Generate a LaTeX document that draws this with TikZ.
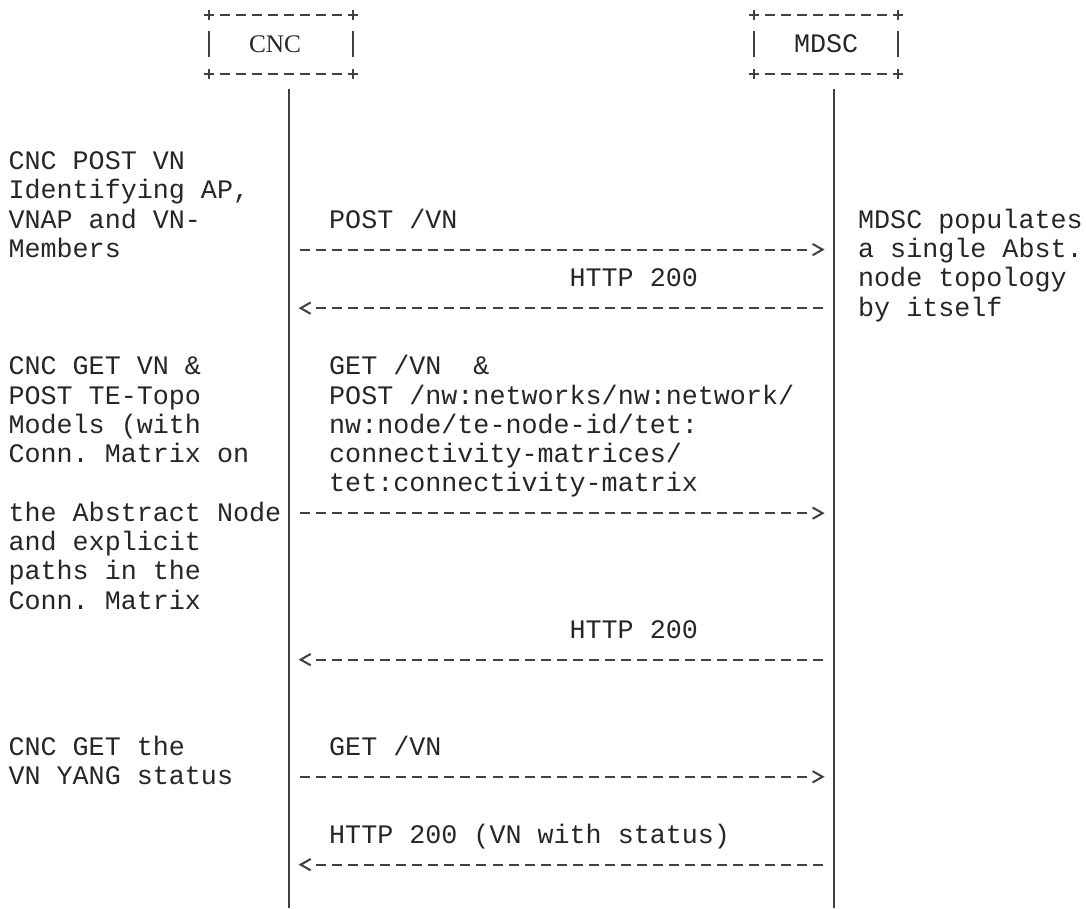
\documentclass[tikz,border=0pt]{standalone}
\usepackage{fontspec}
\newfontfamily\asciimono{Liberation Mono}
\newfontfamily\asciiserif{Liberation Serif}
\usetikzlibrary{arrows.meta}

% dash pattern of one message line: 32 hyphens, then blank up to the tip
\def\hyphenrun{}
\foreach \i in {1,...,31}{\xdef\hyphenrun{\hyphenrun on 7.5pt off 4.5225pt }}
\xdef\hyphenrun{\hyphenrun on 7.5pt off 60pt}

% text on the character grid: name, column, row, text
\newcommand\gridtext[4]{\node[mono] (#1) at ({cx(#2)-8.015},{ry(#3)+8.6}) {#4};}

% actor box drawn in the "+----+" manner: name, left column, right column
\newcommand\asciibox[3]{%
  \coordinate (#1nw) at ({cx(#2)},{ry(0)+0.6});
  \coordinate (#1ne) at ({cx(#3)},{ry(0)+0.6});
  \coordinate (#1sw) at ({cx(#2)},{ry(2)+0.6});
  \coordinate (#1se) at ({cx(#3)},{ry(2)+0.6});
  \draw[boxrule] ([xshift=-3.75pt]#1nw) -- ([xshift=3.75pt]#1ne);
  \draw[boxrule] ([xshift=-3.75pt]#1sw) -- ([xshift=3.75pt]#1se);
  \foreach \corner in {nw,ne,sw,se}{\draw[ink] ([yshift=-3.75pt]#1\corner) -- ([yshift=3.75pt]#1\corner);}
  \draw[ink] ({cx(#2)},{ry(1)-13.2}) -- ({cx(#2)},{ry(1)+13.2});
  \draw[ink] ({cx(#3)},{ry(1)-13.2}) -- ({cx(#3)},{ry(1)+13.2});
}

% points where a message row meets the two lifelines
\newcommand\lifepoints[1]{%
  \coordinate (c#1) at ({cx(17)},{ry(#1)+0.6});
  \coordinate (m#1) at ({cx(51)},{ry(#1)+0.6});
}

\begin{document}
\begin{tikzpicture}[x=0.75pt, y=-0.75pt,
  declare function={cx(\cn)=16.6+16.03*\cn; ry(\rn)=14.65+29.29*\rn;},
  ink/.style={draw=black!75, line width=1.5pt},
  mono/.style={font=\asciimono\fontsize{20.04pt}{22pt}\selectfont\frenchspacing,
    text=black!85, inner sep=0pt, outer sep=0pt, anchor=base west},
  serifname/.style={mono, font=\asciiserif\fontsize{19pt}{22pt}\selectfont},
  boxrule/.style={ink, dash pattern=on 7.5pt off 4.5225pt},
  hyphens/.style={dash pattern/.expand once=\hyphenrun},
  msg/.style={ink, hyphens, -{Straight Barb[length=7.5pt,width=8.5pt]},
    shorten <=8.27pt, shorten >=7.15pt},
]
\useasboundingbox (0,0) rectangle (1086,908);

% actors
\asciibox{cncbox}{12}{21}
\asciibox{mdscbox}{46}{55}
\node[serifname] (cncname) at ({cx(15)-8.015},{ry(1)+8.6}) {CNC};
\gridtext{mdscname}{49}{1}{MDSC}

% lifelines
\coordinate (cncTop) at ({cx(17)},{ry(3)-13.2});
\coordinate (cncFoot) at ({cx(17)},908);
\coordinate (mdscTop) at ({cx(51)},{ry(3)-13.2});
\coordinate (mdscFoot) at ({cx(51)},908);
\draw[ink] (cncTop) -- (cncFoot);
\draw[ink] (mdscTop) -- (mdscFoot);

% messages
\foreach \r in {8,10,17,22,26,29}{\lifepoints{\r}}
\draw[msg] (c8) -- (m8);
\draw[msg] (m10) -- (c10);
\draw[msg] (c17) -- (m17);
\draw[msg] (m22) -- (c22);
\draw[msg] (c26) -- (m26);
\draw[msg] (m29) -- (c29);

% step descriptions on the CNC side
\gridtext{n5}{0}{5}{CNC POST VN}
\gridtext{n6}{0}{6}{Identifying AP,}
\gridtext{n7}{0}{7}{VNAP and VN-}
\gridtext{n8}{0}{8}{Members}
\gridtext{n12}{0}{12}{CNC GET VN \&}
\gridtext{n13}{0}{13}{POST TE-Topo}
\gridtext{n14}{0}{14}{Models (with}
\gridtext{n15}{0}{15}{Conn. Matrix on}
\gridtext{n17}{0}{17}{the Abstract Node}
\gridtext{n18}{0}{18}{and explicit}
\gridtext{n19}{0}{19}{paths in the}
\gridtext{n20}{0}{20}{Conn. Matrix}
\gridtext{n25}{0}{25}{CNC GET the}
\gridtext{n26}{0}{26}{VN YANG status}

% message texts
\gridtext{t7}{20}{7}{POST /VN}
\gridtext{t9}{35}{9}{HTTP 200}
\gridtext{t12}{20}{12}{GET /VN\ \ \&}
\gridtext{t13}{20}{13}{POST /nw:networks/nw:network/}
\gridtext{t14}{20}{14}{nw:node/te-node-id/tet:}
\gridtext{t15}{20}{15}{connectivity-matrices/}
\gridtext{t16}{20}{16}{tet:connectivity-matrix}
\gridtext{t21}{35}{21}{HTTP 200}
\gridtext{t25}{20}{25}{GET /VN}
\gridtext{t28}{20}{28}{HTTP 200 (VN with status)}

% MDSC side note
\gridtext{r7}{53}{7}{MDSC populates}
\gridtext{r8}{53}{8}{a single Abst.}
\gridtext{r9}{53}{9}{node topology}
\gridtext{r10}{53}{10}{by itself}
\end{tikzpicture}
\end{document}
